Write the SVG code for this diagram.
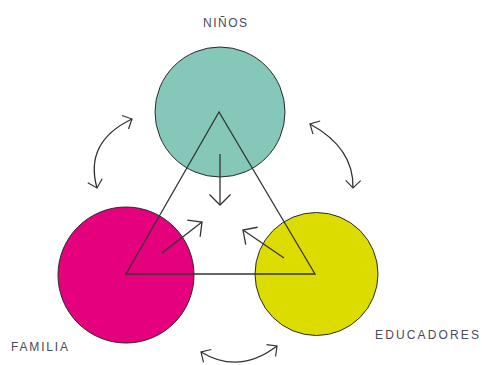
<svg xmlns="http://www.w3.org/2000/svg" width="482" height="365" viewBox="0 0 482 365">
<defs>
<style>
.node{stroke:#2a2a2a;stroke-width:1}
.lbl{font-family:"Liberation Sans",Arial,sans-serif;font-size:12px;fill:#4a4a58;font-weight:normal}
.ln{fill:none;stroke:#333;stroke-width:1.3}
</style>
<marker id="big" markerUnits="userSpaceOnUse" viewBox="-12 -12 14 24" refX="0" refY="0" markerWidth="14" markerHeight="24" orient="auto-start-reverse" overflow="visible">
<path d="M-10.5,-10.5 L0,0 L-10.5,10.5" fill="none" stroke="#333" stroke-width="1.3"/>
</marker>
<marker id="sm" markerUnits="userSpaceOnUse" viewBox="-9 -9 10 18" refX="0" refY="0" markerWidth="10" markerHeight="18" orient="auto-start-reverse" overflow="visible">
<path d="M-7.5,-7.5 L0,0 L-7.5,7.5" fill="none" stroke="#333" stroke-width="1.2"/>
</marker>
</defs>
<rect width="482" height="365" fill="#fff"/>
<g id="ninos">
<circle class="node" cx="220" cy="112" r="65" fill="#85c8b9"/>
<text class="lbl" x="203" y="27" textLength="44" lengthAdjust="spacing">NIÑOS</text>
</g>
<g id="familia">
<circle class="node" cx="126" cy="275" r="68" fill="#e5007d"/>
<text class="lbl" x="11" y="351" textLength="57" lengthAdjust="spacing">FAMILIA</text>
</g>
<g id="educadores">
<circle class="node" cx="316.5" cy="274" r="61.5" fill="#dcdc00"/>
<text class="lbl" x="375" y="339" textLength="104" lengthAdjust="spacing">EDUCADORES</text>
</g>
<g id="connectors">
<path class="ln" d="M219,112 L126,274 L315,274 Z" stroke-linejoin="miter"/>
<path class="ln" d="M220,154 L220,205" marker-end="url(#big)"/>
<path class="ln" d="M162,253 L202,222" marker-end="url(#big)"/>
<path class="ln" d="M284,258 L243,230" marker-end="url(#big)"/>
<path class="ln" d="M132,119 Q84,142 97,188" marker-start="url(#sm)" marker-end="url(#sm)"/>
<path class="ln" d="M310,124 Q354,148 353,188" marker-start="url(#sm)" marker-end="url(#sm)"/>
<path class="ln" d="M201,352 Q239,375 277,346" marker-start="url(#sm)" marker-end="url(#sm)"/>
</g>
</svg>
